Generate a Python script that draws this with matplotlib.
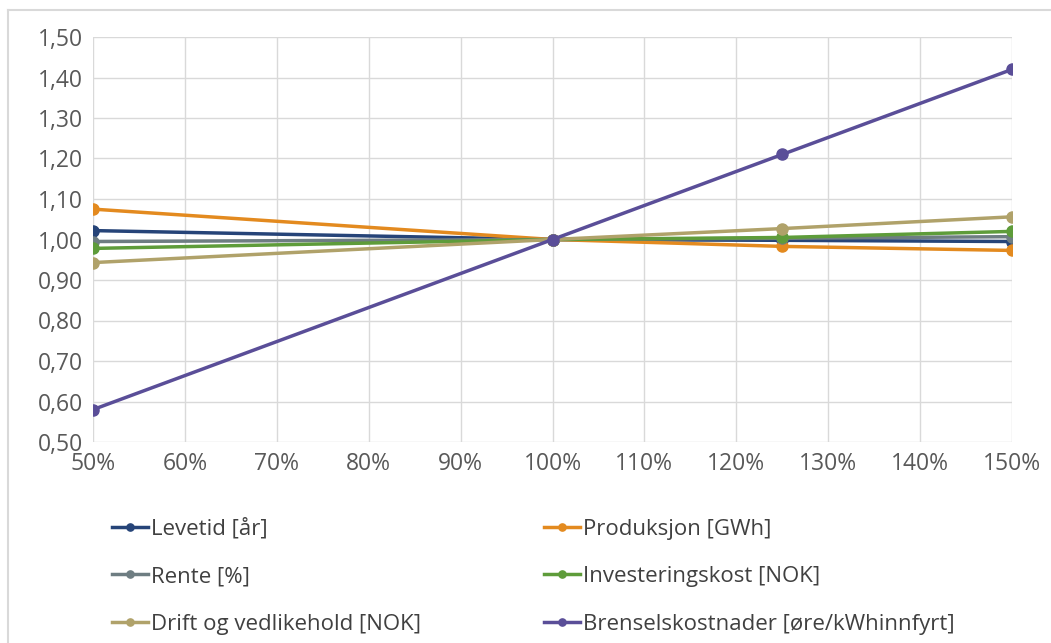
import matplotlib
matplotlib.use("Agg")
import matplotlib.pyplot as plt
from matplotlib.ticker import FuncFormatter
from matplotlib.lines import Line2D

# sensitivity levels (% of base case)
x_levels = [50, 100, 125, 150]

levetid = [1.022, 1.000, 0.998, 0.995]
produksjon = [1.075, 1.000, 0.983, 0.973]
rente = [0.995, 1.000, 1.003, 1.007]
investering = [0.978, 1.000, 1.005, 1.020]
drift = [0.943, 1.000, 1.027, 1.056]
brensel = [0.58, 1.000, 1.21, 1.42]

labels = ["Levetid [år]", "Produksjon [GWh]", "Rente [%]",
          "Investeringskost [NOK]", "Drift og vedlikehold [NOK]",
          "Brenselskostnader [øre/kWhinnfyrt]"]
colors = ["#264478", "#E38A1F", "#6E7D82", "#5E9C3A", "#B0A26A", "#5A4E98"]
series = [levetid, produksjon, rente, investering, drift, brensel]

plt.rcParams["font.family"] = ["Open Sans", "DejaVu Sans"]

fig = plt.figure(figsize=(10.51, 6.43), dpi=100)
ax = fig.add_axes([93/1051, 1-442/643, (1012-93)/1051, (442-37)/643])

lines = []
for ys, lab, c in zip(series, labels, colors):
    ln, = ax.plot(x_levels, ys, color=c, lw=2.5, marker="o", ms=8, label=lab, zorder=3)
    lines.append(ln)

ax.set_xlim(50, 150)
ax.set_ylim(0.5, 1.5)
ax.set_xticks(range(50, 151, 10))
ax.set_yticks([0.5 + 0.1*i for i in range(11)])
ax.xaxis.set_major_formatter(FuncFormatter(lambda v, p: f"{v:.0f}%"))
ax.yaxis.set_major_formatter(FuncFormatter(lambda v, p: f"{v:.2f}".replace(".", ",")))
ax.grid(True, color="#D9D9D9", lw=1)
for s in ax.spines.values():
    s.set_visible(False)
ax.tick_params(length=0, labelsize=16.5, labelcolor="#595959", pad=7)

# legend: column-first order
order = [0, 2, 4, 1, 3, 5]
fig.legend([lines[i] for i in order], [labels[i] for i in order],
           loc="upper left", bbox_to_anchor=(92/1051, 1-498/643), ncol=2,
           frameon=False, fontsize=16, labelcolor="#404040",
           handlelength=1.6, handletextpad=0.15, columnspacing=5.55,
           labelspacing=1.2, markerscale=0.65)

# outer chart border (left and top edges visible in the source)
fig.add_artist(Line2D([8/1051, 8/1051], [0, 1-10/643], transform=fig.transFigure,
                      color="#D9D9D9", lw=1.5))
fig.add_artist(Line2D([8/1051, 1], [1-10/643, 1-10/643], transform=fig.transFigure,
                      color="#D9D9D9", lw=1.5))

fig.savefig("out.png", dpi=100)
